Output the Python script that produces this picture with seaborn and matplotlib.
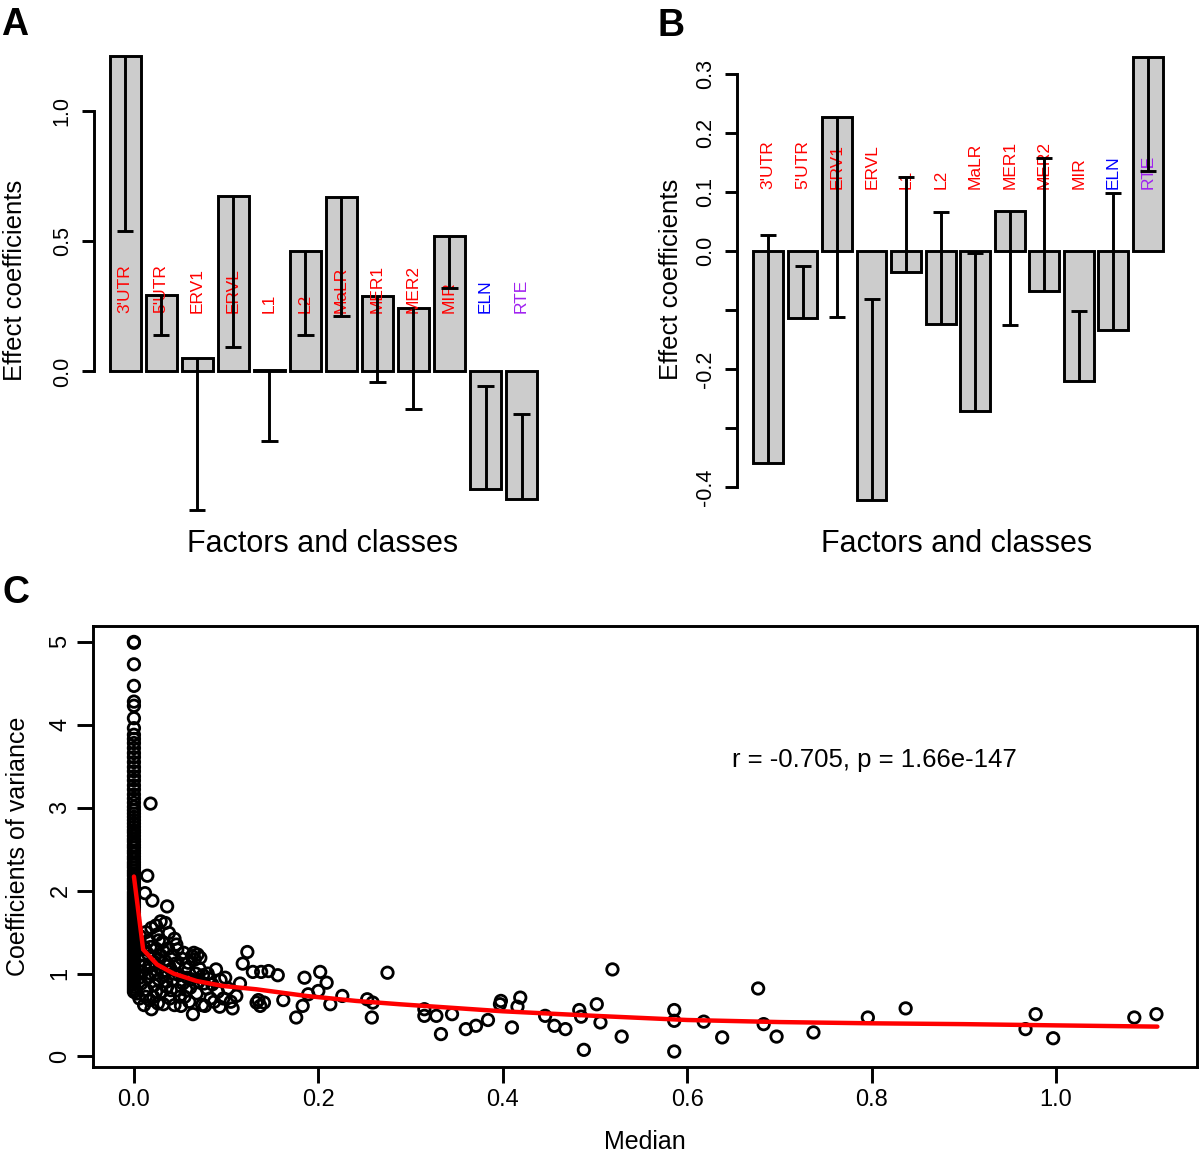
import matplotlib
matplotlib.use("Agg")
import matplotlib.pyplot as plt
import numpy as np
import pandas as pd
import seaborn as sns

W, H = 1200, 1157

# ---- panels A and B: effect coefficients per factor / class ----
classes = ["3'UTR", "5'UTR", "ERV1", "ERVL", "L1", "L2", "MaLR",
           "MER1", "MER2", "MIR", "ELN", "RTE"]
label_colors = ["red", "red", "red", "red", "red", "red", "red",
                "red", "red", "red", "blue", "#A020F0"]

coef_a = [1.207, 0.293, 0.051, 0.674, 0.005, 0.462, 0.670, 0.290, 0.242, 0.521, -0.452, -0.490]
whisker_a = [0.538, 0.141, -0.530, 0.093, -0.268, 0.140, 0.211, -0.041, -0.144, 0.321, -0.056, -0.162]

coef_b = [-0.360, -0.114, 0.228, -0.422, -0.036, -0.123, -0.272, 0.068, -0.068, -0.220, -0.133, 0.329]
whisker_b = [0.028, -0.025, -0.111, -0.082, 0.125, 0.066, -0.003, -0.125, 0.158, -0.101, 0.099, 0.136]

ticks_a = [0.0, 0.5, 1.0]
ticklabels_a = ["0.0", "0.5", "1.0"]
ticks_b = [-0.4, -0.3, -0.2, -0.1, 0.0, 0.1, 0.2, 0.3]
ticklabels_b = ["-0.4", "", "-0.2", "", "0.0", "0.1", "0.2", "0.3"]

# ---- panel C: median vs coefficient of variance ----
# genes whose median is zero form the vertical column at x = 0
column_cv = [
    5.00, 4.99, 4.73, 4.47, 4.28, 4.23, 4.08, 3.96, 3.88, 3.83,
    3.78, 3.72, 3.66, 3.61, 3.55, 3.49, 3.44, 3.38, 3.33, 3.27,
    3.22, 3.16, 3.11, 3.06, 3.01, 2.97, 2.93, 2.89, 2.85, 2.81,
    2.77, 2.73, 2.70, 2.66, 2.62, 2.59, 2.55, 2.52, 2.48, 2.45,
    2.41, 2.38, 2.34, 2.31, 2.28, 2.24, 2.21, 2.18, 2.14, 2.11,
    2.08, 2.05, 2.02, 1.98, 1.95, 1.92, 1.89, 1.86, 1.83, 1.80,
    1.77, 1.74, 1.71, 1.68, 1.65, 1.62, 1.59, 1.56, 1.53, 1.50,
    1.47, 1.44, 1.41, 1.38, 1.35, 1.32, 1.29, 1.26, 1.23, 1.20,
    1.17, 1.14, 1.11, 1.08, 1.05, 1.02, 0.99, 0.96, 0.93, 0.90,
    0.87, 0.84, 0.81, 0.78,
]

cluster_median = [
    0.003, 0.006, 0.008, 0.009, 0.010, 0.011, 0.012, 0.011, 0.014, 0.015,
    0.016, 0.015, 0.016, 0.0145, 0.018, 0.019, 0.020, 0.019, 0.021, 0.022,
    0.023, 0.022, 0.024, 0.025, 0.026, 0.027, 0.028, 0.029, 0.029, 0.030,
    0.031, 0.032, 0.033, 0.034, 0.034, 0.036, 0.036, 0.037, 0.038, 0.039,
    0.040, 0.041, 0.042, 0.044, 0.045, 0.046, 0.047, 0.047, 0.049, 0.051,
    0.052, 0.053, 0.055, 0.056, 0.058, 0.060, 0.061, 0.063, 0.064, 0.065,
    0.066, 0.067, 0.068, 0.069, 0.070, 0.072, 0.074, 0.075, 0.077, 0.079,
    0.081, 0.083, 0.085, 0.089, 0.091, 0.094, 0.097, 0.099, 0.102, 0.107,
    0.111, 0.115, 0.006, 0.007, 0.006, 0.013, 0.012, 0.013, 0.018, 0.018,
    0.017, 0.024, 0.024, 0.026, 0.027, 0.031, 0.032, 0.035, 0.038, 0.040,
    0.043, 0.044, 0.048, 0.050, 0.054, 0.057, 0.059, 0.062, 0.071, 0.076,
    0.080, 0.087, 0.093, 0.105,
]
cluster_cv = [
    0.76, 0.70, 0.88, 1.02, 1.16, 1.32, 1.97, 0.62, 0.80, 0.95,
    1.08, 1.24, 1.40, 2.18, 3.05, 0.57, 1.88, 1.55, 0.72, 0.86,
    1.00, 1.14, 1.30, 1.47, 0.64, 0.93, 1.07, 1.22, 1.63, 0.78,
    1.38, 0.63, 0.98, 1.61, 1.15, 1.81, 0.84, 1.30, 1.49, 0.70,
    1.05, 1.21, 0.92, 0.62, 1.12, 1.35, 1.29, 0.80, 0.98, 0.61,
    1.18, 0.88, 0.72, 1.06, 0.95, 0.66, 0.83, 1.21, 0.51, 1.25,
    1.17, 1.00, 0.76, 1.23, 0.90, 1.19, 0.62, 0.98, 0.61, 0.82,
    0.94, 0.70, 0.87, 1.05, 0.78, 0.92, 0.70, 0.95, 0.82, 0.58,
    0.73, 0.88, 1.10, 1.45, 0.95, 1.50, 1.10, 0.72, 1.32, 1.00,
    0.68, 1.58, 0.78, 1.18, 1.40, 1.02, 1.27, 0.90, 1.10, 0.80,
    1.00, 1.42, 1.10, 0.72, 1.25, 0.80, 1.13, 0.93, 1.06, 0.88,
    1.00, 0.66, 0.60, 0.66,
]

tail_median = [
    0.123, 0.118, 0.129, 0.138, 0.146, 0.156, 0.185, 0.202, 0.209, 0.189,
    0.200, 0.183, 0.176, 0.162, 0.213, 0.226, 0.275, 0.253, 0.259, 0.258,
    0.133, 0.137, 0.141, 0.135, 0.315, 0.315, 0.328, 0.333, 0.345, 0.360,
    0.371, 0.384, 0.398, 0.397, 0.419, 0.416, 0.410, 0.446, 0.456, 0.468,
    0.483, 0.485, 0.488, 0.502, 0.506, 0.519, 0.529, 0.586, 0.586, 0.586,
    0.618, 0.638, 0.677, 0.683, 0.697, 0.737, 0.796, 0.837, 0.967, 0.978,
    0.997, 1.085, 1.109,
]
tail_cv = [
    1.26, 1.12, 1.02, 1.02, 1.03, 0.98, 0.95, 1.02, 0.89, 0.75,
    0.79, 0.61, 0.47, 0.68, 0.63, 0.73, 1.01, 0.69, 0.65, 0.47,
    0.65, 0.61, 0.65, 0.68, 0.57, 0.49, 0.49, 0.27, 0.51, 0.33,
    0.37, 0.44, 0.67, 0.63, 0.71, 0.60, 0.35, 0.49, 0.37, 0.33,
    0.56, 0.48, 0.08, 0.63, 0.41, 1.05, 0.24, 0.56, 0.43, 0.06,
    0.42, 0.23, 0.82, 0.39, 0.24, 0.29, 0.47, 0.58, 0.33, 0.51,
    0.22, 0.47, 0.51,
]

fit_median = [0.0, 0.010, 0.025, 0.043, 0.068, 0.097, 0.133, 0.187, 0.241,
              0.288, 0.40, 0.50, 0.60, 0.70, 0.80, 0.90, 1.00, 1.11]
fit_cv = [2.17, 1.29, 1.11, 1.00, 0.91, 0.85, 0.81, 0.73, 0.67,
          0.63, 0.545, 0.49, 0.44, 0.415, 0.40, 0.39, 0.375, 0.36]

c_xticks = [0.0, 0.2, 0.4, 0.6, 0.8, 1.0]
c_xticklabels = ["0.0", "0.2", "0.4", "0.6", "0.8", "1.0"]
c_yticks = [0, 1, 2, 3, 4, 5]
c_yticklabels = ["0", "1", "2", "3", "4", "5"]


def add_axes_px(fig, x0, y0, x1, y1):
    """Axes from pixel box (top-left origin)."""
    return fig.add_axes([x0 / W, 1 - y1 / H, (x1 - x0) / W, (y1 - y0) / H])


def fig_text(fig, x, y, s, **kw):
    return fig.text(x / W, 1 - y / H, s, **kw)


def draw_effects(ax, coef, whisker, label_y, xlim, ylim, ticks, ticklabels):
    df = pd.DataFrame({"cls": classes, "coef": coef})
    sns.barplot(data=df, x="cls", y="coef", order=classes, color="#cccccc",
                saturation=1, edgecolor="black", linewidth=2.1, width=0.86,
                ax=ax, zorder=2)
    pos = np.arange(len(classes))
    for x, name, col in zip(pos, classes, label_colors):
        ax.text(x, label_y, name, rotation=90, ha="center", va="bottom",
                color=col, fontsize=12.5, zorder=4)
    ax.vlines(pos, coef, whisker, color="black", lw=2.1, zorder=5)
    ax.hlines(whisker, pos - 0.23, pos + 0.23, color="black", lw=2.1, zorder=5)
    ax.set_xlim(*xlim)
    ax.set_ylim(*ylim)
    for side in ("top", "right", "bottom"):
        ax.spines[side].set_visible(False)
    ax.spines["left"].set_bounds(ticks[0], ticks[-1])
    ax.spines["left"].set_linewidth(2.1)
    ax.set_xticks([])
    ax.set_xlabel("")
    ax.set_ylabel("")
    ax.set_yticks(ticks, ticklabels)
    ax.tick_params(axis="y", length=9, width=2.1, pad=6, labelsize=15.5)
    plt.setp(ax.get_yticklabels(), rotation=90, va="center")
    ax.patch.set_alpha(0)


sns.set_theme(style="ticks", rc={
    "axes.edgecolor": "black", "xtick.color": "black", "ytick.color": "black",
    "text.color": "black", "axes.labelcolor": "black",
})
plt.rcParams["font.family"] = ["Liberation Sans", "DejaVu Sans"]

fig = plt.figure(figsize=(W / 100, H / 100), dpi=100)

ax_a = add_axes_px(fig, 93.5, 54.4, 545, 511.9)
draw_effects(ax_a, coef_a, whisker_a, 0.225, (-0.875, 11.65), (-0.538, 1.215),
             ticks_a, ticklabels_a)
ax_b = add_axes_px(fig, 737, 53.6, 1172, 501.7)
draw_effects(ax_b, coef_b, whisker_b, 0.105, (-0.9, 11.7), (-0.425, 0.335),
             ticks_b, ticklabels_b)

fig_text(fig, 323, 544, "Factors and classes", ha="center", va="center", fontsize=22)
fig_text(fig, 957, 544, "Factors and classes", ha="center", va="center", fontsize=22)
fig_text(fig, 15, 280, "Effect coefficients", rotation=90, ha="center", va="center", fontsize=18.5)
fig_text(fig, 671, 279, "Effect coefficients", rotation=90, ha="center", va="center", fontsize=18.5)

# panel C
ax_c = add_axes_px(fig, 93, 625.6, 1197, 1067)
scatter_df = pd.DataFrame({
    "median": np.concatenate([np.zeros(len(column_cv)), cluster_median, tail_median]),
    "cv": np.concatenate([column_cv, cluster_cv, tail_cv]),
})
sns.scatterplot(data=scatter_df, x="median", y="cv", ax=ax_c, marker="o", s=68,
                facecolors="none", edgecolor="black", linewidth=2.0, zorder=2)
sns.lineplot(x=fit_median, y=fit_cv, ax=ax_c, color="red", lw=3.2, sort=False,
             estimator=None, zorder=3)
ax_c.set_xlim(-0.0444, 1.153)
ax_c.set_ylim(-0.127, 5.197)
for side in ax_c.spines.values():
    side.set_linewidth(2.1)
ax_c.set_xticks(c_xticks, c_xticklabels)
ax_c.set_yticks(c_yticks, c_yticklabels)
ax_c.tick_params(length=11.5, width=2.1, pad=4, labelsize=17)
plt.setp(ax_c.get_yticklabels(), rotation=90, va="center")
ax_c.set_xlabel("")
ax_c.set_ylabel("")
ax_c.text(0.803, 3.495, "r = -0.705, p = 1.66e-147", ha="center", va="baseline",
          fontsize=18.5)
fig_text(fig, 645, 1142, "Median", ha="center", va="center", fontsize=18)
fig_text(fig, 18, 846, "Coefficients of variance", rotation=90, ha="center",
         va="center", fontsize=18)

# panel letters
fig_text(fig, 1, 35, "A", fontsize=27, fontweight="bold", va="baseline")
fig_text(fig, 658, 36, "B", fontsize=27, fontweight="bold", va="baseline")
fig_text(fig, 2, 603, "C", fontsize=27, fontweight="bold", va="baseline")

fig.savefig("out.png", dpi=100)
